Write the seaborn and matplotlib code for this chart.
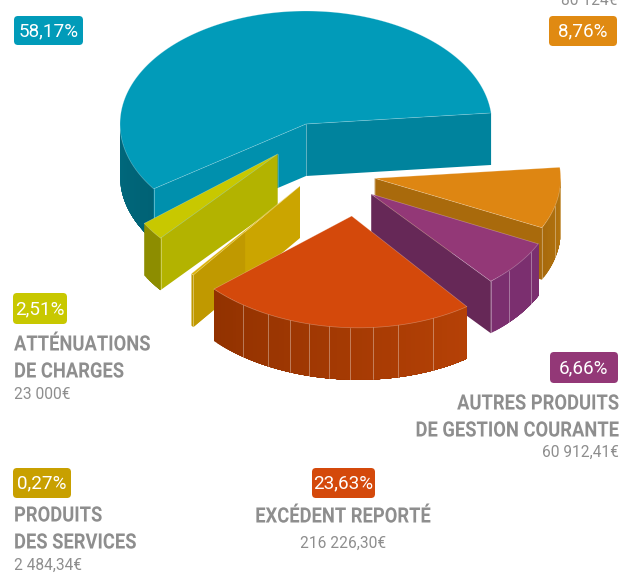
import numpy as np
import matplotlib
matplotlib.use('Agg')
import matplotlib.pyplot as plt
from matplotlib.patches import FancyBboxPatch, Polygon
from matplotlib.patheffects import AbstractPathEffect
from matplotlib.transforms import Affine2D
import seaborn as sns

# budget shares, same order as they go round the pie
names = ['(blue)', 'ATTÉNUATIONS\nDE CHARGES', 'PRODUITS\nDES SERVICES',
         'EXCÉDENT REPORTÉ', 'AUTRES PRODUITS\nDE GESTION COURANTE', '(orange)']
percents = [58.17, 2.51, 0.27, 23.63, 6.66, 8.76]
percent_labels = ['58,17%', '2,51%', '0,27%', '23,63%', '6,66%', '8,76%']
amount_labels = ['', '23 000€', '2 484,34€', '216 226,30€', '60 912,41€', '80 124€']

top_colors = ['#019bb9', '#c8c800', '#dcb208', '#d4490b', '#933877', '#de8612']
badge_colors = ['#019bb9', '#c8c800', '#c8a000', '#d4490b', '#933877', '#e08a12']
face_colors = ['#0090ad', '#b3b300', '#cba500', '#d4490b', '#662857', '#a96a0c']
wall_dark = ['#00697d', '#8d8d00', '#c09900', '#923200', '#7b2f6f', '#a86a0c']
wall_light = ['#006275', '#8d8d00', '#c09900', '#b54106', '#7b2f6f', '#b8780f']

# each slice is drawn on its own: apex x, apex y, radius x, radius y, shear x, shear y
shapes = [(306, 124, 186, 113, 0, 0),
          (277.7, 154, 163, 121, 0, 0),
          (300, 186, 151, 126, 0, 0),
          (351.7, 216, 187.5, 111.5, 7.3, 8.2),
          (371, 194, 186, 114, 0, 0),
          (374.7, 178.3, 186, 113, 0, 0)]
ribs = [[], [], [],
        [237, 245.7, 252.9, 259.2, 265.4, 271.8, 278.6, 286.5, 298],
        [317.8, 329.3], [345.7, 355]]
start_angle = 5.6
depth = 52

sns.set_style('white')
fig = plt.figure(figsize=(6.31, 5.73), dpi=100)
ax = fig.add_axes([0, 0, 1, 1])
ax.set_xlim(0, 631)
ax.set_ylim(573, 0)
ax.axis('off')


class Squeeze(AbstractPathEffect):
    # no condensed bold installed, so narrow the titles around their anchor
    def __init__(self, x0, factor):
        super().__init__()
        self.x0 = x0
        self.factor = factor

    def draw_path(self, renderer, gc, tpath, affine, rgbFace=None):
        squeeze = Affine2D().translate(-self.x0, 0).scale(self.factor, 1).translate(self.x0, 0)
        renderer.draw_path(gc, tpath, affine + squeeze, rgbFace)


def point(shape, t):
    x0, y0, rx, ry, sx, sy = shape
    r = np.radians(t)
    return (x0 + rx * np.cos(r) + sx * np.sin(r), y0 + sy * np.cos(r) - ry * np.sin(r))


def poly(pts, color, z):
    ax.add_patch(Polygon(pts, closed=True, facecolor=color, edgecolor='none', zorder=z))


def edge(p, q, z, alpha=0.4):
    ax.plot([p[0], q[0]], [p[1], q[1]], color='white', lw=0.6, alpha=alpha, zorder=z)


def draw_slice(i, t1, t2, z):
    shape = shapes[i]
    apex = shape[:2]
    # outer wall, only the part that looks at the viewer
    a = max(t1, 180)
    b = min(t2, 360)
    if b > a:
        n = max(int((b - a) / 1.5), 1)
        steps = np.linspace(a, b, n + 1)
        grad = sns.blend_palette([wall_dark[i], wall_light[i]], n)
        for k in range(n):
            # every strip runs to the end of the wall, the next one paints over it
            arc = [point(shape, t) for t in steps[k:]]
            low = [(p[0], p[1] + depth) for p in arc[::-1]]
            poly(arc + low, grad[k], z)
        for t in ribs[i]:
            p = point(shape, t)
            edge(p, (p[0], p[1] + depth), z + 0.1)
    # cut faces
    for t, normal in ((t1, t1 - 90), (t2, t2 + 90)):
        if np.sin(np.radians(normal)) < 0:
            p = point(shape, t)
            color = face_colors[i]
            if i == 0 and t == t1:
                color = '#00839d'
            poly([apex, p, (p[0], p[1] + depth), (apex[0], apex[1] + depth)], color, z + 0.2)
            if i == 2:
                m = (p[0] + (apex[0] - p[0]) * 0.486, p[1] + (apex[1] - p[1]) * 0.486)
                poly([p, m, (m[0], m[1] + depth), (p[0], p[1] + depth)], wall_dark[i], z + 0.3)
            edge(p, (p[0], p[1] + depth), z + 0.4)
            edge(apex, (apex[0], apex[1] + depth), z + 0.4, 0.25)
    # top
    arc = [point(shape, t) for t in np.linspace(t1, t2, max(int(t2 - t1), 2) + 1)]
    poly([apex] + arc, top_colors[i], z + 0.5)
    ax.plot(*zip(*([arc[-1], apex, arc[0]])), color='white', lw=0.5, alpha=0.3, zorder=z + 0.6)
    ax.plot(*zip(*arc), color='white', lw=0.5, alpha=0.3, zorder=z + 0.6)


edges = start_angle + np.concatenate([[0], np.cumsum(percents)]) * 3.6
order = [0, 1, 2, 5, 4, 3]
for z, i in enumerate(order):
    draw_slice(i, edges[i], edges[i + 1], z + 1)

# labels
badge_boxes = [(14, 16, 69, 29), (13, 293, 54, 31), (13, 468, 58, 30),
               (312, 468, 63, 30), (550, 352, 68, 31), (549, 16, 68, 30)]
for i, (x, y, w, h) in enumerate(badge_boxes):
    ax.add_patch(FancyBboxPatch((x, y), w, h, boxstyle='round,pad=0,rounding_size=4',
                                facecolor=badge_colors[i], edgecolor='none', zorder=20))
    ax.text(x + w / 2, y + h / 2 + 0.5, percent_labels[i], color='white', fontsize=13.6,
            family='Roboto', ha='center', va='center', zorder=21)

grey = '#8e8e8e'
title_pos = {1: (14, 'left', [350.5, 377.5]), 2: (14, 'left', [521.5, 548.5]),
             3: (343, 'center', [522.5]), 4: (619, 'right', [409.5, 436.5])}
amount_pos = {1: (14, 'left', 399), 2: (14, 'left', 570), 3: (343, 'center', 548),
              4: (619, 'right', 457), 5: (617, 'right', 5)}
for i, (x, ha, ys) in title_pos.items():
    for line, y in zip(names[i].split('\n'), ys):
        ax.text(x, y, line, color=grey, fontsize=15.2, fontweight='bold', family='Roboto',
                ha=ha, va='baseline', zorder=21, path_effects=[Squeeze(x, 0.87)])
for i, (x, ha, y) in amount_pos.items():
    ax.text(x, y, amount_labels[i], color=grey, fontsize=11.2, family='Roboto',
            ha=ha, va='baseline', zorder=21)

fig.savefig('out.png', dpi=100)
